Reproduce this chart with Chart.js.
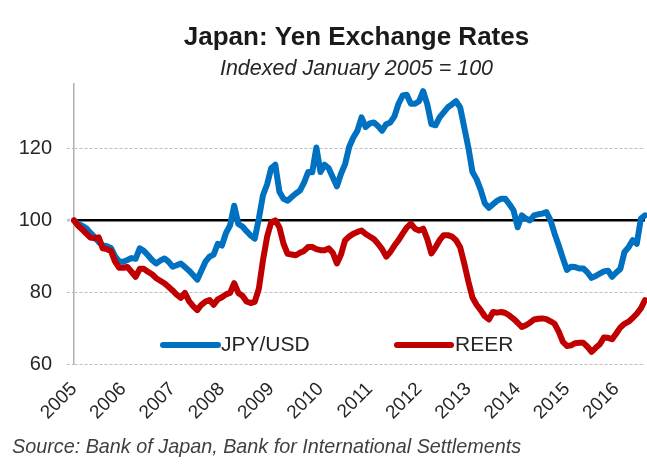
<!DOCTYPE html>
<html>
<head>
<meta charset="utf-8">
<script src="https://cdn.jsdelivr.net/npm/chart.js@4.4.1/dist/chart.umd.min.js"></script>
<style>
  html, body { margin: 0; padding: 0; background: #fff; }
  #wrap { position: relative; width: 647px; height: 464px; }
</style>
</head>
<body>
<div id="wrap"><canvas id="yenChart"></canvas></div>
<script>
  const FONT = "'Liberation Sans', Arial, sans-serif";

  const titleText = 'Japan: Yen Exchange Rates';
  const subtitleText = 'Indexed January 2005 = 100';
  const sourceText = 'Source: Bank of Japan, Bank for International Settlements';

  const years = ['2005','2006','2007','2008','2009','2010','2011','2012','2013','2014','2015','2016'];
  const yTicks = [60, 80, 100, 120];

  // monthly index values, Jan 2005 .. Aug 2016
  const jpyUsd = [
    100, 99, 98.5, 97.8, 96.5, 95.4, 94, 93, 92.8, 92.3, 90, 88.5,
    88.5, 89, 89.5, 89.3, 92.2, 91.5, 90.3, 89, 88, 88.8, 89.4, 88.5,
    87.1, 87.5, 88, 87, 86, 84.8, 83.5, 86, 88.5, 89.9, 90.5, 93.5,
    93, 96.5, 98.6, 104.1, 99, 98.3, 97, 95.8, 94.9, 100.5, 107, 110,
    114.5, 115.5, 108, 106, 105.5, 106.5, 107.5, 108.3, 110.5, 113.5, 113.4, 120.3,
    113.5, 115.5, 114.5, 112, 109.5, 113, 115.7, 120.5, 123.1, 125, 128.7, 126,
    127, 127.3, 126.3, 125, 126.8, 127.3, 129, 132.5, 134.8, 135, 132.5, 132.5,
    133.2, 136, 132.3, 126.8, 126.5, 128.7, 130.1, 131.5, 132.3, 133.2, 131.5, 125.9,
    120.3, 113.5, 111.5, 108.5, 104.8, 103.5, 104.5, 105.5, 106, 106, 104.5, 102.8,
    98.1, 101.4, 100.5, 100, 101.4, 101.7, 101.9, 102.3, 100, 96.3, 93, 89.5,
    86.2, 87.1, 87, 86.6, 86.6, 85.5, 84, 84.5, 85.2, 85.8, 86, 84.3,
    85.5, 86.5, 91.2, 92.5, 94.5, 93.5, 100.5, 101.4
  ];
  const reer = [
    100, 98.5, 97.5, 96.3, 95.2, 95, 95.3, 92.2, 92, 91.5, 88.5, 86.8,
    86.8, 87, 85.7, 84.3, 86.5, 86.5, 85.7, 85, 83.9, 83.2, 82.5, 81.5,
    80.5, 79.3, 78.4, 79.8, 77.5, 76.1, 75, 76.5, 77.4, 77.8, 76.5, 78,
    78.6, 79.4, 79.8, 82.5, 79.8, 79, 77.4, 77, 77.3, 81, 88.9, 95.4,
    99.5, 100, 98.1, 93.5, 90.7, 90.5, 90.3, 91, 91.5, 92.6, 92.6, 92,
    91.7, 91.7, 92.2, 91, 88, 90.5, 94.5, 95.5, 96.3, 96.8, 97.2, 96.2,
    95.5, 94.8, 93.5, 92, 89.9, 91.2, 93, 94.5, 96.3, 98, 99.1, 97.7,
    97.2, 97.7, 94.8, 90.8, 92.5, 94.5, 95.9, 95.9, 95.5, 94.5, 92.5, 88,
    83, 78.5, 76.5, 75, 73.3, 72.4, 74.5, 74.3, 74.5, 74.2, 73.5, 72.6,
    71.5, 70.3, 70.8, 71.5, 72.4, 72.6, 72.7, 72.5, 71.9, 71.2, 69, 66.2,
    65, 65.2, 65.8, 65.9, 65.9, 64.8, 63.4, 64.5, 65.5, 67.4, 67.3, 66.9,
    68.5, 70.2, 71.2, 71.8, 72.8, 74, 75.5, 77.8
  ];

  // month categories "YYYY-MM", trimmed to the length of the series
  const months = [];
  years.forEach(y => {
    for (let m = 1; m <= 12; m++) months.push(y + '-' + String(m).padStart(2, '0'));
  });
  months.length = jpyUsd.length;

  // title, subtitle, source line and the in-plot legend
  const textPlugin = {
    id: 'texts',
    afterDraw(chart) {
      const { ctx, chartArea: a } = chart;
      const cx = (a.left + a.right) / 2 - 3;
      ctx.save();
      ctx.textAlign = 'center';
      ctx.textBaseline = 'alphabetic';
      ctx.fillStyle = '#1a1a1a';
      ctx.font = 'bold 26px ' + FONT;
      ctx.fillText(titleText, cx, 45);
      ctx.fillStyle = '#262626';
      ctx.font = 'italic 21.5px ' + FONT;
      ctx.fillText(subtitleText, cx, 75);

      ctx.textAlign = 'left';
      ctx.fillStyle = '#404040';
      ctx.font = 'italic 19.8px ' + FONT;
      ctx.fillText(sourceText, 12, 453);

      // legend sits inside the plot, near the bottom
      const items = [
        { ds: 0, x: 163, w: 55, tx: 221 },
        { ds: 1, x: 397, w: 54, tx: 455 }
      ];
      const ly = 345;
      ctx.font = '21px ' + FONT;
      ctx.textBaseline = 'middle';
      items.forEach(it => {
        const ds = chart.data.datasets[it.ds];
        ctx.strokeStyle = ds.borderColor;
        ctx.lineWidth = 6;
        ctx.lineCap = 'round';
        ctx.beginPath();
        ctx.moveTo(it.x, ly);
        ctx.lineTo(it.x + it.w, ly);
        ctx.stroke();
        ctx.fillStyle = '#262626';
        ctx.fillText(ds.label, it.tx, ly);
      });
      ctx.restore();
    }
  };

  const isHundred = c => c.tick && c.tick.value === 100;

  new Chart(document.getElementById('yenChart'), {
    type: 'line',
    data: {
      labels: months,
      datasets: [
        { label: 'JPY/USD', data: jpyUsd, borderColor: '#0070c0', backgroundColor: '#0070c0',
          borderWidth: 6, pointRadius: 0, tension: 0, borderJoinStyle: 'round', borderCapStyle: 'round', order: 1 },
        { label: 'REER', data: reer, borderColor: '#c00000', backgroundColor: '#c00000',
          borderWidth: 6, pointRadius: 0, tension: 0, borderJoinStyle: 'round', borderCapStyle: 'round', order: 0 }
      ]
    },
    options: {
      responsive: true,
      maintainAspectRatio: false,
      animation: false,
      layout: { padding: { top: 84, right: 2, left: 0, bottom: 0 } },
      plugins: { legend: { display: false }, tooltip: { enabled: false } },
      scales: {
        x: {
          grid: { display: false },
          border: { display: false },
          ticks: {
            autoSkip: false,
            minRotation: 45,
            maxRotation: 45,
            padding: 6,
            color: '#262626',
            font: { size: 19, family: FONT },
            callback: (v, i) => months[i].endsWith('-01') ? months[i].slice(0, 4) : ''
          },
          afterFit(s) { s.height = 100; s.paddingLeft = 0; s.paddingRight = 0; }
        },
        y: {
          min: 60,
          max: 138,
          afterBuildTicks(s) { s.ticks = yTicks.map(v => ({ value: v })); },
          afterFit(s) { s.width = 74; },
          grid: {
            color: c => isHundred(c) ? '#000000' : '#bfbfbf',
            lineWidth: c => isHundred(c) ? 2.5 : 1,
            tickLength: 7,
            tickColor: '#bfbfbf',
            tickBorderDash: [3, 2]
          },
          border: { color: '#b0b0b0', width: 1.5, dash: c => isHundred(c) ? [] : [3, 2] },
          ticks: { padding: 15, color: '#262626', font: { size: 20, family: FONT } }
        }
      }
    },
    plugins: [textPlugin]
  });
</script>
</body>
</html>
